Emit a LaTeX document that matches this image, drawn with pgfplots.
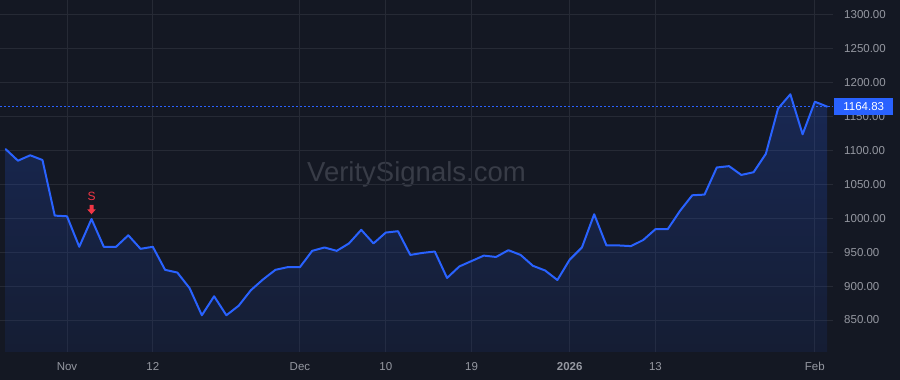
\documentclass[border=0pt]{standalone}
\usepackage{pgfplots}
\pgfplotsset{compat=1.18}
\usepackage{pgfplotstable}
\usepackage{fontspec}
\setmainfont{Liberation Sans}
\definecolor{bg}{HTML}{141823}
\definecolor{gridc}{HTML}{262A35}
\definecolor{tvblue}{HTML}{2962FF}
\definecolor{lbl}{HTML}{9598A1}
\definecolor{wm}{HTML}{383C47}
\definecolor{sigred}{HTML}{F23645}
\pgfplotstableread{
i v
0 1102
1 1085
2 1093
3 1086
4 1004
5 1003
6 958
7 999
8 958
9 958
10 975
11 955
12 958
13 924
14 920
15 897
16 857
17 885
18 857
19 871
20 894
21 910
22 924
23 928
24 928
25 952
26 957
27 952
28 963
29 983
30 963
31 979
32 981
33 946
34 949
35 951
36 912
37 929
38 937
39 945
40 943
41 953
42 946
43 930
44 923
45 909
46 939
47 957
48 1006
49 960
50 960
51 959
52 968
53 984
54 984
55 1011
56 1034
57 1035
58 1075
59 1077
60 1064
61 1068
62 1095
63 1162
64 1183
65 1124
66 1172
67 1164.83
}\pricedata
\pgfdeclareplotmark{sellsig}{%
  \pgfpathmoveto{\pgfpoint{0pt}{4.7pt}}%
  \pgfpathlineto{\pgfpoint{-4.3pt}{9.7pt}}%
  \pgfpathlineto{\pgfpoint{-2pt}{9.7pt}}%
  \pgfpathlineto{\pgfpoint{-2pt}{14.2pt}}%
  \pgfpathlineto{\pgfpoint{2pt}{14.2pt}}%
  \pgfpathlineto{\pgfpoint{2pt}{9.7pt}}%
  \pgfpathlineto{\pgfpoint{4.3pt}{9.7pt}}%
  \pgfpathclose
  \pgfusepath{fill}%
  \pgftext[at={\pgfpoint{0pt}{22.3pt}}]{\color{sigred}\fontsize{12pt}{12pt}\selectfont S}%
}
\begin{document}
\begin{tikzpicture}
\useasboundingbox (0,0) rectangle (900pt,380pt);
\fill[bg] (0,0) rectangle (900pt,380pt);
\node[text=wm, font=\fontsize{27.5pt}{28pt}\selectfont, anchor=base, inner sep=0] at (416.5pt,198pt) {VeritySignals.com};
\begin{axis}[
  at={(0pt,28pt)}, anchor=south west,
  scale only axis, width=833pt, height=352pt,
  xmin=-0.465, xmax=67.48, ymin=802.8, ymax=1322.1,
  axis line style={draw=none},
  major tick length=0pt,
  grid=major,
  major grid style={draw=gridc, line width=1pt},
  xtick={5,12,24,31,38,46,53,66},
  xticklabels={Nov,12,Dec,10,19,\textbf{2026},13,Feb},
  ytick={850,900,...,1300},
  yticklabel pos=right,
  /pgf/number format/.cd, fixed, fixed zerofill, precision=2, 1000 sep={}, assume math mode=true,
  /pgfplots/.cd,
  tick label style={text=lbl, font=\fontsize{11.5pt}{12pt}\selectfont, inner sep=0pt},
  yticklabel style={anchor=west, xshift=11pt},
  xticklabel style={anchor=base, yshift=-19pt},
  clip=false,
]
\addplot[draw=none, top color=tvblue, bottom color=tvblue!35!bg, fill opacity=0.22] table[x=i, y=v] {\pricedata} -- (axis cs:67,802.8) -- (axis cs:0,802.8) -- cycle;
\addplot[tvblue, line width=0.9pt, dash pattern=on 2pt off 2pt] coordinates {(-0.465,1164.83) (67.48,1164.83)};
\addplot[tvblue, line width=2pt, line join=round, line cap=round] table[x=i, y=v] {\pricedata};
\addplot[only marks, mark=sellsig, sigred, draw=none, fill=sigred] coordinates {(7,999)};
\node[fill=tvblue, text=white, anchor=west, minimum height=17pt, minimum width=59pt, inner sep=0pt, font=\fontsize{11.5pt}{12pt}\selectfont] at (axis cs:67.48,1164.83) [xshift=1pt] {1164.83};
\end{axis}
\end{tikzpicture}
\end{document}
